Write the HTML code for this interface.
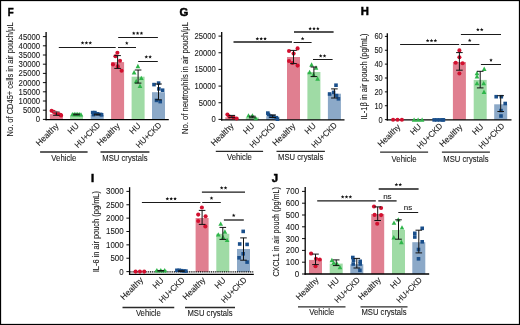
<!DOCTYPE html>
<html><head><meta charset="utf-8"><style>
html,body{margin:0;padding:0;background:#fff;}
svg{display:block;will-change:transform;}
text{font-family:"Liberation Sans", sans-serif;fill:#1a1a1a;stroke:#1a1a1a;stroke-width:0.1px;}
</style></head><body>
<svg width="520" height="325" viewBox="0 0 520 325">
<rect x="0" y="0" width="520" height="325" fill="#fff"/>
<text x="7.8" y="15.7" font-size="11.3" font-weight="bold" style="stroke-width:0.5px;fill:#000;stroke:#000" textLength="5.9" lengthAdjust="spacingAndGlyphs">F</text>
<text transform="translate(12.6,136.4) rotate(-90)" font-size="8.6" fill="#222" textLength="114" lengthAdjust="spacingAndGlyphs">No. of CD45+ cells in air pouch/μL</text>
<line x1="42.90" y1="119.4" x2="46.1" y2="119.4" stroke="#111" stroke-width="1"/>
<text x="40.10" y="122.35" font-size="8.7" text-anchor="end" textLength="4.30" lengthAdjust="spacingAndGlyphs">0</text>
<line x1="42.90" y1="110.2" x2="46.1" y2="110.2" stroke="#111" stroke-width="1"/>
<text x="40.10" y="113.15" font-size="8.7" text-anchor="end" textLength="17.20" lengthAdjust="spacingAndGlyphs">5000</text>
<line x1="42.90" y1="101.0" x2="46.1" y2="101.0" stroke="#111" stroke-width="1"/>
<text x="40.10" y="103.95" font-size="8.7" text-anchor="end" textLength="21.50" lengthAdjust="spacingAndGlyphs">10000</text>
<line x1="42.90" y1="91.8" x2="46.1" y2="91.8" stroke="#111" stroke-width="1"/>
<text x="40.10" y="94.75" font-size="8.7" text-anchor="end" textLength="21.50" lengthAdjust="spacingAndGlyphs">15000</text>
<line x1="42.90" y1="82.6" x2="46.1" y2="82.6" stroke="#111" stroke-width="1"/>
<text x="40.10" y="85.55" font-size="8.7" text-anchor="end" textLength="21.50" lengthAdjust="spacingAndGlyphs">20000</text>
<line x1="42.90" y1="73.4" x2="46.1" y2="73.4" stroke="#111" stroke-width="1"/>
<text x="40.10" y="76.35" font-size="8.7" text-anchor="end" textLength="21.50" lengthAdjust="spacingAndGlyphs">25000</text>
<line x1="42.90" y1="64.2" x2="46.1" y2="64.2" stroke="#111" stroke-width="1"/>
<text x="40.10" y="67.15" font-size="8.7" text-anchor="end" textLength="21.50" lengthAdjust="spacingAndGlyphs">30000</text>
<line x1="42.90" y1="55.0" x2="46.1" y2="55.0" stroke="#111" stroke-width="1"/>
<text x="40.10" y="57.95" font-size="8.7" text-anchor="end" textLength="21.50" lengthAdjust="spacingAndGlyphs">35000</text>
<line x1="42.90" y1="45.8" x2="46.1" y2="45.8" stroke="#111" stroke-width="1"/>
<text x="40.10" y="48.75" font-size="8.7" text-anchor="end" textLength="21.50" lengthAdjust="spacingAndGlyphs">40000</text>
<line x1="42.90" y1="36.6" x2="46.1" y2="36.6" stroke="#111" stroke-width="1"/>
<text x="40.10" y="39.55" font-size="8.7" text-anchor="end" textLength="21.50" lengthAdjust="spacingAndGlyphs">45000</text>
<rect x="49.90" y="114.1" width="13" height="5.50" fill="#E07F90"/>
<rect x="70.00" y="116.0" width="13" height="3.60" fill="#9FDBA5"/>
<rect x="90.70" y="115.0" width="13" height="4.60" fill="#8CA9C8"/>
<rect x="111.10" y="62.1" width="13" height="57.50" fill="#E07F90"/>
<rect x="131.60" y="76.7" width="13" height="42.90" fill="#9FDBA5"/>
<rect x="152.00" y="92.2" width="13" height="27.40" fill="#8CA9C8"/>
<line x1="46.1" y1="32.0" x2="46.1" y2="120.25" stroke="#000" stroke-width="1.3"/>
<line x1="45.45" y1="119.6" x2="168.8" y2="119.6" stroke="#000" stroke-width="1.35"/>
<circle cx="51.6" cy="110.8" r="2.05" fill="#D2102F"/>
<circle cx="53.8" cy="111.9" r="2.05" fill="#D2102F"/>
<circle cx="56.0" cy="112.9" r="2.05" fill="#D2102F"/>
<circle cx="58.2" cy="113.8" r="2.05" fill="#D2102F"/>
<circle cx="60.4" cy="114.7" r="2.05" fill="#D2102F"/>
<circle cx="61.1" cy="115.4" r="2.05" fill="#D2102F"/>
<line x1="56.4" y1="111.8" x2="56.4" y2="115.3" stroke="#111" stroke-width="1"/>
<line x1="53.1" y1="111.8" x2="59.699999999999996" y2="111.8" stroke="#777" stroke-width="1"/>
<line x1="53.1" y1="115.3" x2="59.699999999999996" y2="115.3" stroke="#111" stroke-width="1"/>
<polygon points="72.4,111.96 74.75,116.36 70.05,116.36" fill="#2EB54A"/>
<polygon points="74.2,111.86 76.55,116.26 71.85,116.26" fill="#2EB54A"/>
<polygon points="76.0,111.76 78.35,116.16 73.65,116.16" fill="#2EB54A"/>
<polygon points="77.8,111.76 80.15,116.16 75.45,116.16" fill="#2EB54A"/>
<polygon points="79.6,111.96 81.95,116.36 77.25,116.36" fill="#2EB54A"/>
<polygon points="81.0,112.16 83.35,116.56 78.65,116.56" fill="#2EB54A"/>
<line x1="76.5" y1="114.1" x2="76.5" y2="114.9" stroke="#111" stroke-width="1"/>
<line x1="73.2" y1="114.1" x2="79.8" y2="114.1" stroke="#111" stroke-width="1"/>
<line x1="73.2" y1="114.9" x2="79.8" y2="114.9" stroke="#111" stroke-width="1"/>
<rect x="90.90" y="110.80" width="3.6" height="3.6" fill="#1A4F8B"/>
<rect x="93.10" y="110.80" width="3.6" height="3.6" fill="#1A4F8B"/>
<rect x="91.70" y="112.80" width="3.6" height="3.6" fill="#1A4F8B"/>
<rect x="95.80" y="112.00" width="3.6" height="3.6" fill="#1A4F8B"/>
<rect x="98.80" y="112.60" width="3.6" height="3.6" fill="#1A4F8B"/>
<rect x="99.80" y="113.00" width="3.6" height="3.6" fill="#1A4F8B"/>
<line x1="97.2" y1="114.1" x2="97.2" y2="114.9" stroke="#111" stroke-width="1"/>
<line x1="93.9" y1="114.1" x2="100.5" y2="114.1" stroke="#111" stroke-width="1"/>
<line x1="93.9" y1="114.9" x2="100.5" y2="114.9" stroke="#111" stroke-width="1"/>
<circle cx="117.4" cy="52.8" r="2.05" fill="#D2102F"/>
<circle cx="115.4" cy="56.2" r="2.05" fill="#D2102F"/>
<circle cx="120" cy="60.8" r="2.05" fill="#D2102F"/>
<circle cx="113" cy="64.4" r="2.05" fill="#D2102F"/>
<circle cx="117.8" cy="66.4" r="2.05" fill="#D2102F"/>
<circle cx="121.6" cy="70.8" r="2.05" fill="#D2102F"/>
<line x1="117.6" y1="55.6" x2="117.6" y2="68.4" stroke="#111" stroke-width="1"/>
<line x1="114.3" y1="55.6" x2="120.89999999999999" y2="55.6" stroke="#111" stroke-width="1"/>
<line x1="114.3" y1="68.4" x2="120.89999999999999" y2="68.4" stroke="#111" stroke-width="1"/>
<polygon points="137.9,63.86 140.25,68.26 135.55,68.26" fill="#2EB54A"/>
<polygon points="134.1,70.06 136.45,74.46 131.75,74.46" fill="#2EB54A"/>
<polygon points="141.3,75.66 143.65,80.06 138.95,80.06" fill="#2EB54A"/>
<polygon points="136.2,78.76 138.55,83.16 133.85,83.16" fill="#2EB54A"/>
<polygon points="140,83.56 142.35,87.96 137.65,87.96" fill="#2EB54A"/>
<line x1="138.1" y1="70.0" x2="138.1" y2="83.1" stroke="#111" stroke-width="1"/>
<line x1="134.79999999999998" y1="70.0" x2="141.4" y2="70.0" stroke="#111" stroke-width="1"/>
<line x1="134.79999999999998" y1="83.1" x2="141.4" y2="83.1" stroke="#111" stroke-width="1"/>
<rect x="152.20" y="82.80" width="3.6" height="3.6" fill="#1A4F8B"/>
<rect x="156.80" y="81.30" width="3.6" height="3.6" fill="#1A4F8B"/>
<rect x="157.10" y="87.10" width="3.6" height="3.6" fill="#1A4F8B"/>
<rect x="160.80" y="88.40" width="3.6" height="3.6" fill="#1A4F8B"/>
<rect x="154.70" y="98.60" width="3.6" height="3.6" fill="#1A4F8B"/>
<rect x="158.40" y="99.80" width="3.6" height="3.6" fill="#1A4F8B"/>
<line x1="158.5" y1="84.0" x2="158.5" y2="99.8" stroke="#111" stroke-width="1"/>
<line x1="155.2" y1="84.0" x2="161.8" y2="84.0" stroke="#111" stroke-width="1"/>
<line x1="155.2" y1="99.8" x2="161.8" y2="99.8" stroke="#111" stroke-width="1"/>
<line x1="58.8" y1="47.5" x2="115.7" y2="47.5" stroke="#1a1a1a" stroke-width="1"/>
<polygon points="82.55,41.00 83.05,42.21 84.36,42.31 83.36,43.16 83.67,44.44 82.55,43.75 81.43,44.44 81.74,43.16 80.74,42.31 82.05,42.21" fill="#111"/>
<polygon points="86.40,41.00 86.90,42.21 88.21,42.31 87.21,43.16 87.52,44.44 86.40,43.75 85.28,44.44 85.59,43.16 84.59,42.31 85.90,42.21" fill="#111"/>
<polygon points="90.25,41.00 90.75,42.21 92.06,42.31 91.06,43.16 91.37,44.44 90.25,43.75 89.13,44.44 89.44,43.16 88.44,42.31 89.75,42.21" fill="#111"/>
<line x1="118" y1="47.5" x2="136" y2="47.5" stroke="#1a1a1a" stroke-width="1"/>
<polygon points="126.80,41.20 127.30,42.41 128.61,42.51 127.61,43.36 127.92,44.64 126.80,43.95 125.68,44.64 125.99,43.36 124.99,42.51 126.30,42.41" fill="#111"/>
<line x1="118.2" y1="37.5" x2="157.9" y2="37.5" stroke="#1a1a1a" stroke-width="1"/>
<polygon points="133.75,31.40 134.25,32.61 135.56,32.71 134.56,33.56 134.87,34.84 133.75,34.15 132.63,34.84 132.94,33.56 131.94,32.71 133.25,32.61" fill="#111"/>
<polygon points="137.60,31.40 138.10,32.61 139.41,32.71 138.41,33.56 138.72,34.84 137.60,34.15 136.48,34.84 136.79,33.56 135.79,32.71 137.10,32.61" fill="#111"/>
<polygon points="141.45,31.40 141.95,32.61 143.26,32.71 142.26,33.56 142.57,34.84 141.45,34.15 140.33,34.84 140.64,33.56 139.64,32.71 140.95,32.61" fill="#111"/>
<line x1="138.2" y1="61.5" x2="157.8" y2="61.5" stroke="#1a1a1a" stroke-width="1"/>
<polygon points="146.27,55.10 146.77,56.31 148.08,56.41 147.08,57.26 147.39,58.54 146.27,57.85 145.16,58.54 145.47,57.26 144.47,56.41 145.78,56.31" fill="#111"/>
<polygon points="150.12,55.10 150.62,56.31 151.93,56.41 150.93,57.26 151.24,58.54 150.12,57.85 149.01,58.54 149.32,57.26 148.32,56.41 149.63,56.31" fill="#111"/>
<text transform="translate(59.15,126.55) rotate(-45)" font-size="8.4" text-anchor="end" textLength="28.3" lengthAdjust="spacingAndGlyphs">Healthy</text>
<text transform="translate(79.53,126.27) rotate(-45)" font-size="8.4" text-anchor="end" textLength="11.9" lengthAdjust="spacingAndGlyphs">HU</text>
<text transform="translate(100.80,125.70) rotate(-45)" font-size="8.4" text-anchor="end" textLength="32.4" lengthAdjust="spacingAndGlyphs">HU+CKD</text>
<text transform="translate(120.35,126.55) rotate(-45)" font-size="8.4" text-anchor="end" textLength="28.3" lengthAdjust="spacingAndGlyphs">Healthy</text>
<text transform="translate(141.13,126.27) rotate(-45)" font-size="8.4" text-anchor="end" textLength="11.9" lengthAdjust="spacingAndGlyphs">HU</text>
<text transform="translate(162.10,125.70) rotate(-45)" font-size="8.4" text-anchor="end" textLength="32.4" lengthAdjust="spacingAndGlyphs">HU+CKD</text>
<line x1="40.1" y1="152.0" x2="87.6" y2="152.0" stroke="#2a2a2a" stroke-width="1.3"/>
<text x="63.85" y="161.40" font-size="8.8" text-anchor="middle" textLength="25.0" lengthAdjust="spacingAndGlyphs">Vehicle</text>
<line x1="100.5" y1="152.0" x2="149.4" y2="152.0" stroke="#2a2a2a" stroke-width="1.3"/>
<text x="124.95" y="161.40" font-size="8.8" text-anchor="middle" textLength="45.2" lengthAdjust="spacingAndGlyphs">MSU crystals</text>
<text x="179.6" y="15.7" font-size="11.3" font-weight="bold" style="stroke-width:0.5px;fill:#000;stroke:#000">G</text>
<text transform="translate(187.6,134.0) rotate(-90)" font-size="8.8" fill="#222" textLength="112" lengthAdjust="spacingAndGlyphs">No. of neutrophils in air pouch/μL</text>
<line x1="218.50" y1="119.4" x2="221.7" y2="119.4" stroke="#111" stroke-width="1"/>
<text x="215.70" y="122.35" font-size="8.7" text-anchor="end" textLength="4.24" lengthAdjust="spacingAndGlyphs">0</text>
<line x1="218.50" y1="102.74" x2="221.7" y2="102.74" stroke="#111" stroke-width="1"/>
<text x="215.70" y="105.69" font-size="8.7" text-anchor="end" textLength="16.96" lengthAdjust="spacingAndGlyphs">5000</text>
<line x1="218.50" y1="86.08" x2="221.7" y2="86.08" stroke="#111" stroke-width="1"/>
<text x="215.70" y="89.03" font-size="8.7" text-anchor="end" textLength="21.20" lengthAdjust="spacingAndGlyphs">10000</text>
<line x1="218.50" y1="69.42" x2="221.7" y2="69.42" stroke="#111" stroke-width="1"/>
<text x="215.70" y="72.37" font-size="8.7" text-anchor="end" textLength="21.20" lengthAdjust="spacingAndGlyphs">15000</text>
<line x1="218.50" y1="52.76" x2="221.7" y2="52.76" stroke="#111" stroke-width="1"/>
<text x="215.70" y="55.71" font-size="8.7" text-anchor="end" textLength="21.20" lengthAdjust="spacingAndGlyphs">20000</text>
<line x1="218.50" y1="36.1" x2="221.7" y2="36.1" stroke="#111" stroke-width="1"/>
<text x="215.70" y="39.05" font-size="8.7" text-anchor="end" textLength="21.20" lengthAdjust="spacingAndGlyphs">25000</text>
<rect x="225.30" y="117.3" width="13" height="2.50" fill="#E07F90"/>
<rect x="245.80" y="117.5" width="13" height="2.30" fill="#9FDBA5"/>
<rect x="266.20" y="116.5" width="13" height="3.30" fill="#8CA9C8"/>
<rect x="287.00" y="57.0" width="13" height="62.80" fill="#E07F90"/>
<rect x="307.40" y="72.0" width="13" height="47.80" fill="#9FDBA5"/>
<rect x="327.90" y="93.7" width="13" height="26.10" fill="#8CA9C8"/>
<line x1="221.7" y1="32.1" x2="221.7" y2="120.45" stroke="#000" stroke-width="1.3"/>
<line x1="221.04999999999998" y1="119.8" x2="344.5" y2="119.8" stroke="#000" stroke-width="1.35"/>
<circle cx="227.4" cy="114.6" r="2.05" fill="#D2102F"/>
<circle cx="229.3" cy="116.5" r="2.05" fill="#D2102F"/>
<circle cx="233.5" cy="117.3" r="2.05" fill="#D2102F"/>
<circle cx="236.6" cy="118.5" r="2.05" fill="#D2102F"/>
<line x1="231.8" y1="115.4" x2="231.8" y2="117.7" stroke="#111" stroke-width="1"/>
<line x1="228.5" y1="115.4" x2="235.10000000000002" y2="115.4" stroke="#111" stroke-width="1"/>
<line x1="228.5" y1="117.7" x2="235.10000000000002" y2="117.7" stroke="#111" stroke-width="1"/>
<polygon points="248.5,113.16 250.85,117.56 246.15,117.56" fill="#2EB54A"/>
<polygon points="252.4,113.16 254.75,117.56 250.05,117.56" fill="#2EB54A"/>
<polygon points="255.8,115.96 258.15,120.36 253.45,120.36" fill="#2EB54A"/>
<line x1="252.3" y1="116.2" x2="252.3" y2="117.8" stroke="#111" stroke-width="1"/>
<line x1="249.0" y1="116.2" x2="255.60000000000002" y2="116.2" stroke="#111" stroke-width="1"/>
<line x1="249.0" y1="117.8" x2="255.60000000000002" y2="117.8" stroke="#111" stroke-width="1"/>
<rect x="266.00" y="111.30" width="3.6" height="3.6" fill="#1A4F8B"/>
<rect x="266.70" y="112.80" width="3.6" height="3.6" fill="#1A4F8B"/>
<rect x="268.70" y="114.40" width="3.6" height="3.6" fill="#1A4F8B"/>
<rect x="271.70" y="114.70" width="3.6" height="3.6" fill="#1A4F8B"/>
<rect x="274.40" y="115.90" width="3.6" height="3.6" fill="#1A4F8B"/>
<rect x="275.60" y="117.40" width="3.6" height="3.6" fill="#1A4F8B"/>
<line x1="272.7" y1="115.0" x2="272.7" y2="117.5" stroke="#111" stroke-width="1"/>
<line x1="269.4" y1="115.0" x2="276.0" y2="115.0" stroke="#111" stroke-width="1"/>
<line x1="269.4" y1="117.5" x2="276.0" y2="117.5" stroke="#111" stroke-width="1"/>
<circle cx="289" cy="51" r="2.05" fill="#D2102F"/>
<circle cx="297.6" cy="48.4" r="2.05" fill="#D2102F"/>
<circle cx="293.6" cy="53.6" r="2.05" fill="#D2102F"/>
<circle cx="289" cy="61" r="2.05" fill="#D2102F"/>
<circle cx="297.6" cy="65.6" r="2.05" fill="#D2102F"/>
<circle cx="292.4" cy="63" r="2.05" fill="#D2102F"/>
<line x1="293.5" y1="50.4" x2="293.5" y2="63.6" stroke="#111" stroke-width="1"/>
<line x1="290.2" y1="50.4" x2="296.8" y2="50.4" stroke="#111" stroke-width="1"/>
<line x1="290.2" y1="63.6" x2="296.8" y2="63.6" stroke="#111" stroke-width="1"/>
<polygon points="311.6,62.36 313.95,66.76 309.25,66.76" fill="#2EB54A"/>
<polygon points="309.6,69.76 311.95,74.16 307.25,74.16" fill="#2EB54A"/>
<polygon points="316,65.36 318.35,69.76 313.65,69.76" fill="#2EB54A"/>
<polygon points="317.6,76.36 319.95,80.76 315.25,80.76" fill="#2EB54A"/>
<polygon points="313.5,72.36 315.85,76.76 311.15,76.76" fill="#2EB54A"/>
<line x1="313.9" y1="67.0" x2="313.9" y2="76.6" stroke="#111" stroke-width="1"/>
<line x1="310.59999999999997" y1="67.0" x2="317.2" y2="67.0" stroke="#111" stroke-width="1"/>
<line x1="310.59999999999997" y1="76.6" x2="317.2" y2="76.6" stroke="#111" stroke-width="1"/>
<rect x="334.20" y="83.40" width="3.6" height="3.6" fill="#1A4F8B"/>
<rect x="327.80" y="92.20" width="3.6" height="3.6" fill="#1A4F8B"/>
<rect x="331.80" y="90.60" width="3.6" height="3.6" fill="#1A4F8B"/>
<rect x="336.60" y="97.00" width="3.6" height="3.6" fill="#1A4F8B"/>
<rect x="334.70" y="93.80" width="3.6" height="3.6" fill="#1A4F8B"/>
<line x1="334.4" y1="88.9" x2="334.4" y2="98.0" stroke="#111" stroke-width="1"/>
<line x1="331.09999999999997" y1="88.9" x2="337.7" y2="88.9" stroke="#111" stroke-width="1"/>
<line x1="331.09999999999997" y1="98.0" x2="337.7" y2="98.0" stroke="#111" stroke-width="1"/>
<line x1="233.5" y1="42.0" x2="292" y2="42.0" stroke="#1a1a1a" stroke-width="1.3"/>
<polygon points="257.35,36.90 257.85,38.11 259.16,38.21 258.16,39.06 258.47,40.34 257.35,39.65 256.23,40.34 256.54,39.06 255.54,38.21 256.85,38.11" fill="#111"/>
<polygon points="261.20,36.90 261.70,38.11 263.01,38.21 262.01,39.06 262.32,40.34 261.20,39.65 260.08,40.34 260.39,39.06 259.39,38.21 260.70,38.11" fill="#111"/>
<polygon points="265.05,36.90 265.55,38.11 266.86,38.21 265.86,39.06 266.17,40.34 265.05,39.65 263.93,40.34 264.24,39.06 263.24,38.21 264.55,38.11" fill="#111"/>
<line x1="293.6" y1="42.5" x2="311.6" y2="42.5" stroke="#1a1a1a" stroke-width="1"/>
<polygon points="302.60,36.70 303.10,37.91 304.41,38.01 303.41,38.86 303.72,40.14 302.60,39.45 301.48,40.14 301.79,38.86 300.79,38.01 302.10,37.91" fill="#111"/>
<line x1="294" y1="32.0" x2="333.6" y2="32.0" stroke="#1a1a1a" stroke-width="1.3"/>
<polygon points="310.15,26.70 310.65,27.91 311.96,28.01 310.96,28.86 311.27,30.14 310.15,29.45 309.03,30.14 309.34,28.86 308.34,28.01 309.65,27.91" fill="#111"/>
<polygon points="314.00,26.70 314.50,27.91 315.81,28.01 314.81,28.86 315.12,30.14 314.00,29.45 312.88,30.14 313.19,28.86 312.19,28.01 313.50,27.91" fill="#111"/>
<polygon points="317.85,26.70 318.35,27.91 319.66,28.01 318.66,28.86 318.97,30.14 317.85,29.45 316.73,30.14 317.04,28.86 316.04,28.01 317.35,27.91" fill="#111"/>
<line x1="313" y1="59.5" x2="332.6" y2="59.5" stroke="#1a1a1a" stroke-width="1"/>
<polygon points="320.68,54.10 321.17,55.31 322.48,55.41 321.48,56.26 321.79,57.54 320.68,56.85 319.56,57.54 319.87,56.26 318.87,55.41 320.18,55.31" fill="#111"/>
<polygon points="324.53,54.10 325.02,55.31 326.33,55.41 325.33,56.26 325.64,57.54 324.53,56.85 323.41,57.54 323.72,56.26 322.72,55.41 324.03,55.31" fill="#111"/>
<text transform="translate(234.15,126.55) rotate(-45)" font-size="8.4" text-anchor="end" textLength="28.3" lengthAdjust="spacingAndGlyphs">Healthy</text>
<text transform="translate(254.93,126.27) rotate(-45)" font-size="8.4" text-anchor="end" textLength="11.9" lengthAdjust="spacingAndGlyphs">HU</text>
<text transform="translate(275.90,125.70) rotate(-45)" font-size="8.4" text-anchor="end" textLength="32.4" lengthAdjust="spacingAndGlyphs">HU+CKD</text>
<text transform="translate(295.85,126.55) rotate(-45)" font-size="8.4" text-anchor="end" textLength="28.3" lengthAdjust="spacingAndGlyphs">Healthy</text>
<text transform="translate(316.53,126.27) rotate(-45)" font-size="8.4" text-anchor="end" textLength="11.9" lengthAdjust="spacingAndGlyphs">HU</text>
<text transform="translate(337.60,125.70) rotate(-45)" font-size="8.4" text-anchor="end" textLength="32.4" lengthAdjust="spacingAndGlyphs">HU+CKD</text>
<line x1="215.8" y1="151.4" x2="263.1" y2="151.4" stroke="#2a2a2a" stroke-width="1.3"/>
<text x="239.45" y="160.05" font-size="8.8" text-anchor="middle" textLength="25.0" lengthAdjust="spacingAndGlyphs">Vehicle</text>
<line x1="276.5" y1="151.4" x2="324.9" y2="151.4" stroke="#2a2a2a" stroke-width="1.3"/>
<text x="300.70" y="160.05" font-size="8.8" text-anchor="middle" textLength="45.2" lengthAdjust="spacingAndGlyphs">MSU crystals</text>
<text x="360.8" y="15.4" font-size="11.3" font-weight="bold" style="stroke-width:0.5px;fill:#000;stroke:#000">H</text>
<text transform="translate(366.6,119.4) rotate(-90)" font-size="8.6" fill="#222" textLength="86" lengthAdjust="spacingAndGlyphs">IL-1β in air pouch (pg/mL)</text>
<line x1="384.90" y1="119.6" x2="387.3" y2="119.6" stroke="#111" stroke-width="1"/>
<text x="382.70" y="122.55" font-size="8.7" text-anchor="end" textLength="4.15" lengthAdjust="spacingAndGlyphs">0</text>
<line x1="384.90" y1="105.73" x2="387.3" y2="105.73" stroke="#111" stroke-width="1"/>
<text x="382.70" y="108.68" font-size="8.7" text-anchor="end" textLength="8.30" lengthAdjust="spacingAndGlyphs">10</text>
<line x1="384.90" y1="91.87" x2="387.3" y2="91.87" stroke="#111" stroke-width="1"/>
<text x="382.70" y="94.82" font-size="8.7" text-anchor="end" textLength="8.30" lengthAdjust="spacingAndGlyphs">20</text>
<line x1="384.90" y1="78.0" x2="387.3" y2="78.0" stroke="#111" stroke-width="1"/>
<text x="382.70" y="80.95" font-size="8.7" text-anchor="end" textLength="8.30" lengthAdjust="spacingAndGlyphs">30</text>
<line x1="384.90" y1="64.13" x2="387.3" y2="64.13" stroke="#111" stroke-width="1"/>
<text x="382.70" y="67.08" font-size="8.7" text-anchor="end" textLength="8.30" lengthAdjust="spacingAndGlyphs">40</text>
<line x1="384.90" y1="50.27" x2="387.3" y2="50.27" stroke="#111" stroke-width="1"/>
<text x="382.70" y="53.22" font-size="8.7" text-anchor="end" textLength="8.30" lengthAdjust="spacingAndGlyphs">50</text>
<line x1="384.90" y1="36.4" x2="387.3" y2="36.4" stroke="#111" stroke-width="1"/>
<text x="382.70" y="39.35" font-size="8.7" text-anchor="end" textLength="8.30" lengthAdjust="spacingAndGlyphs">60</text>
<rect x="391.00" y="119.6" width="13" height="0.20" fill="#E07F90"/>
<rect x="411.60" y="119.6" width="13" height="0.20" fill="#9FDBA5"/>
<rect x="432.30" y="119.6" width="13" height="0.20" fill="#8CA9C8"/>
<rect x="452.90" y="62.0" width="13" height="57.80" fill="#E07F90"/>
<rect x="473.70" y="79.9" width="13" height="39.90" fill="#9FDBA5"/>
<rect x="494.20" y="104.3" width="13" height="15.50" fill="#8CA9C8"/>
<line x1="387.3" y1="33.3" x2="387.3" y2="120.45" stroke="#000" stroke-width="1.3"/>
<line x1="386.65000000000003" y1="119.8" x2="511.5" y2="119.8" stroke="#000" stroke-width="1.35"/>
<circle cx="393.1" cy="119.7" r="2.05" fill="#D2102F"/>
<circle cx="397.5" cy="119.7" r="2.05" fill="#D2102F"/>
<circle cx="401.9" cy="119.7" r="2.05" fill="#D2102F"/>
<polygon points="414.1,117.46 416.45,121.86 411.75,121.86" fill="#2EB54A"/>
<polygon points="418.1,117.46 420.45,121.86 415.75,121.86" fill="#2EB54A"/>
<polygon points="422.1,117.46 424.45,121.86 419.75,121.86" fill="#2EB54A"/>
<rect x="432.40" y="118.10" width="3.6" height="3.6" fill="#1A4F8B"/>
<rect x="435.20" y="118.10" width="3.6" height="3.6" fill="#1A4F8B"/>
<rect x="438.00" y="118.10" width="3.6" height="3.6" fill="#1A4F8B"/>
<rect x="440.80" y="118.10" width="3.6" height="3.6" fill="#1A4F8B"/>
<rect x="441.60" y="118.10" width="3.6" height="3.6" fill="#1A4F8B"/>
<circle cx="459.4" cy="50.4" r="2.05" fill="#D2102F"/>
<circle cx="459.4" cy="57.3" r="2.05" fill="#D2102F"/>
<circle cx="455.7" cy="62.7" r="2.05" fill="#D2102F"/>
<circle cx="462.6" cy="63.3" r="2.05" fill="#D2102F"/>
<circle cx="459.4" cy="73.5" r="2.05" fill="#D2102F"/>
<line x1="459.4" y1="52.6" x2="459.4" y2="70.2" stroke="#111" stroke-width="1"/>
<line x1="456.09999999999997" y1="52.6" x2="462.7" y2="52.6" stroke="#111" stroke-width="1"/>
<line x1="456.09999999999997" y1="70.2" x2="462.7" y2="70.2" stroke="#111" stroke-width="1"/>
<polygon points="484.2,66.56 486.55,70.96 481.85,70.96" fill="#2EB54A"/>
<polygon points="477,70.86 479.35,75.26 474.65,75.26" fill="#2EB54A"/>
<polygon points="477,74.06 479.35,78.46 474.65,78.46" fill="#2EB54A"/>
<polygon points="477,80.96 479.35,85.36 474.65,85.36" fill="#2EB54A"/>
<polygon points="483.7,80.96 486.05,85.36 481.35,85.36" fill="#2EB54A"/>
<polygon points="484,89.56 486.35,93.96 481.65,93.96" fill="#2EB54A"/>
<line x1="480.2" y1="71.3" x2="480.2" y2="87.9" stroke="#111" stroke-width="1"/>
<line x1="476.9" y1="71.3" x2="483.5" y2="71.3" stroke="#111" stroke-width="1"/>
<line x1="476.9" y1="87.9" x2="483.5" y2="87.9" stroke="#111" stroke-width="1"/>
<rect x="494.40" y="94.90" width="3.6" height="3.6" fill="#1A4F8B"/>
<rect x="499.50" y="94.90" width="3.6" height="3.6" fill="#1A4F8B"/>
<rect x="503.40" y="101.70" width="3.6" height="3.6" fill="#1A4F8B"/>
<rect x="499.20" y="108.80" width="3.6" height="3.6" fill="#1A4F8B"/>
<rect x="499.20" y="114.20" width="3.6" height="3.6" fill="#1A4F8B"/>
<line x1="500.7" y1="95.7" x2="500.7" y2="111.5" stroke="#111" stroke-width="1"/>
<line x1="497.4" y1="95.7" x2="504.0" y2="95.7" stroke="#111" stroke-width="1"/>
<line x1="497.4" y1="111.5" x2="504.0" y2="111.5" stroke="#111" stroke-width="1"/>
<line x1="400.1" y1="44.5" x2="459.2" y2="44.5" stroke="#1a1a1a" stroke-width="1"/>
<polygon points="427.65,38.80 428.15,40.01 429.46,40.11 428.46,40.96 428.77,42.24 427.65,41.55 426.53,42.24 426.84,40.96 425.84,40.11 427.15,40.01" fill="#111"/>
<polygon points="431.50,38.80 432.00,40.01 433.31,40.11 432.31,40.96 432.62,42.24 431.50,41.55 430.38,42.24 430.69,40.96 429.69,40.11 431.00,40.01" fill="#111"/>
<polygon points="435.35,38.80 435.85,40.01 437.16,40.11 436.16,40.96 436.47,42.24 435.35,41.55 434.23,42.24 434.54,40.96 433.54,40.11 434.85,40.01" fill="#111"/>
<line x1="460.9" y1="44.5" x2="479.4" y2="44.5" stroke="#1a1a1a" stroke-width="1"/>
<polygon points="469.70,38.60 470.20,39.81 471.51,39.91 470.51,40.76 470.82,42.04 469.70,41.35 468.58,42.04 468.89,40.76 467.89,39.91 469.20,39.81" fill="#111"/>
<line x1="460.9" y1="34.5" x2="501" y2="34.5" stroke="#1a1a1a" stroke-width="1"/>
<polygon points="477.88,27.80 478.37,29.01 479.68,29.11 478.68,29.96 478.99,31.24 477.88,30.55 476.76,31.24 477.07,29.96 476.07,29.11 477.38,29.01" fill="#111"/>
<polygon points="481.73,27.80 482.22,29.01 483.53,29.11 482.53,29.96 482.84,31.24 481.73,30.55 480.61,31.24 480.92,29.96 479.92,29.11 481.23,29.01" fill="#111"/>
<line x1="480.9" y1="64.5" x2="501" y2="64.5" stroke="#1a1a1a" stroke-width="1"/>
<polygon points="491.00,58.20 491.50,59.41 492.81,59.51 491.81,60.36 492.12,61.64 491.00,60.95 489.88,61.64 490.19,60.36 489.19,59.51 490.50,59.41" fill="#111"/>
<text transform="translate(400.95,127.45) rotate(-45)" font-size="8.4" text-anchor="end" textLength="28.3" lengthAdjust="spacingAndGlyphs">Healthy</text>
<text transform="translate(421.83,127.17) rotate(-45)" font-size="8.4" text-anchor="end" textLength="11.9" lengthAdjust="spacingAndGlyphs">HU</text>
<text transform="translate(443.10,126.60) rotate(-45)" font-size="8.4" text-anchor="end" textLength="32.4" lengthAdjust="spacingAndGlyphs">HU+CKD</text>
<text transform="translate(462.85,127.45) rotate(-45)" font-size="8.4" text-anchor="end" textLength="28.3" lengthAdjust="spacingAndGlyphs">Healthy</text>
<text transform="translate(483.93,127.17) rotate(-45)" font-size="8.4" text-anchor="end" textLength="11.9" lengthAdjust="spacingAndGlyphs">HU</text>
<text transform="translate(505.00,126.60) rotate(-45)" font-size="8.4" text-anchor="end" textLength="32.4" lengthAdjust="spacingAndGlyphs">HU+CKD</text>
<line x1="380.1" y1="152.1" x2="428.1" y2="152.1" stroke="#2a2a2a" stroke-width="1.3"/>
<text x="404.10" y="161.90" font-size="8.8" text-anchor="middle" textLength="25.0" lengthAdjust="spacingAndGlyphs">Vehicle</text>
<line x1="441.9" y1="152.1" x2="489.9" y2="152.1" stroke="#2a2a2a" stroke-width="1.3"/>
<text x="465.90" y="161.90" font-size="8.8" text-anchor="middle" textLength="45.2" lengthAdjust="spacingAndGlyphs">MSU crystals</text>
<text x="90.9" y="181.6" font-size="11.3" font-weight="bold" style="stroke-width:0.5px;fill:#000;stroke:#000">I</text>
<text transform="translate(99.4,272.2) rotate(-90)" font-size="8.6" fill="#222" textLength="81.2" lengthAdjust="spacingAndGlyphs">IL-6 in air pouch (pg/mL)</text>
<line x1="126.40" y1="271.6" x2="129.6" y2="271.6" stroke="#111" stroke-width="1"/>
<text x="123.60" y="274.55" font-size="8.7" text-anchor="end" textLength="4.40" lengthAdjust="spacingAndGlyphs">0</text>
<line x1="126.40" y1="258.23" x2="129.6" y2="258.23" stroke="#111" stroke-width="1"/>
<text x="123.60" y="261.18" font-size="8.7" text-anchor="end" textLength="13.20" lengthAdjust="spacingAndGlyphs">500</text>
<line x1="126.40" y1="244.87" x2="129.6" y2="244.87" stroke="#111" stroke-width="1"/>
<text x="123.60" y="247.82" font-size="8.7" text-anchor="end" textLength="17.60" lengthAdjust="spacingAndGlyphs">1000</text>
<line x1="126.40" y1="231.5" x2="129.6" y2="231.5" stroke="#111" stroke-width="1"/>
<text x="123.60" y="234.45" font-size="8.7" text-anchor="end" textLength="17.60" lengthAdjust="spacingAndGlyphs">1500</text>
<line x1="126.40" y1="218.13" x2="129.6" y2="218.13" stroke="#111" stroke-width="1"/>
<text x="123.60" y="221.08" font-size="8.7" text-anchor="end" textLength="17.60" lengthAdjust="spacingAndGlyphs">2000</text>
<line x1="126.40" y1="204.77" x2="129.6" y2="204.77" stroke="#111" stroke-width="1"/>
<text x="123.60" y="207.72" font-size="8.7" text-anchor="end" textLength="17.60" lengthAdjust="spacingAndGlyphs">2500</text>
<line x1="126.40" y1="191.4" x2="129.6" y2="191.4" stroke="#111" stroke-width="1"/>
<text x="123.60" y="194.35" font-size="8.7" text-anchor="end" textLength="17.60" lengthAdjust="spacingAndGlyphs">3000</text>
<rect x="133.40" y="271.7" width="13" height="0.20" fill="#E07F90"/>
<rect x="154.30" y="271.7" width="13" height="0.20" fill="#9FDBA5"/>
<rect x="174.90" y="271.0" width="13" height="0.90" fill="#8CA9C8"/>
<rect x="195.60" y="218.0" width="13" height="53.90" fill="#E07F90"/>
<rect x="216.30" y="233.8" width="13" height="38.10" fill="#9FDBA5"/>
<rect x="237.00" y="249.0" width="13" height="22.90" fill="#8CA9C8"/>
<line x1="129.6" y1="187.2" x2="129.6" y2="274.95" stroke="#000" stroke-width="1.3"/>
<line x1="128.95" y1="274.3" x2="253.8" y2="274.3" stroke="#000" stroke-width="1.35"/>
<line x1="129.6" y1="271.9" x2="253.8" y2="271.9" stroke="#000" stroke-width="1.1" stroke-dasharray="1.1,0.75"/>
<rect x="155.4" y="269.9" width="11.0" height="2.5" fill="#2EB54A"/>
<circle cx="135.6" cy="271.6" r="2.05" fill="#D2102F"/>
<circle cx="139.9" cy="271.6" r="2.05" fill="#D2102F"/>
<circle cx="144.2" cy="271.6" r="2.05" fill="#D2102F"/>
<polygon points="156.9,267.96 159.25,272.36 154.55,272.36" fill="#2EB54A"/>
<polygon points="160.8,267.96 163.15,272.36 158.45,272.36" fill="#2EB54A"/>
<polygon points="164.7,267.96 167.05,272.36 162.35,272.36" fill="#2EB54A"/>
<line x1="160.8" y1="270.7" x2="160.8" y2="270.9" stroke="#111" stroke-width="1"/>
<line x1="157.5" y1="270.7" x2="164.10000000000002" y2="270.7" stroke="#111" stroke-width="1"/>
<line x1="157.5" y1="270.9" x2="164.10000000000002" y2="270.9" stroke="#111" stroke-width="1"/>
<rect x="175.10" y="268.50" width="3.6" height="3.6" fill="#1A4F8B"/>
<rect x="177.50" y="268.50" width="3.6" height="3.6" fill="#1A4F8B"/>
<rect x="179.80" y="268.90" width="3.6" height="3.6" fill="#1A4F8B"/>
<rect x="182.20" y="269.20" width="3.6" height="3.6" fill="#1A4F8B"/>
<rect x="184.10" y="269.30" width="3.6" height="3.6" fill="#1A4F8B"/>
<line x1="181.4" y1="270.9" x2="181.4" y2="271.3" stroke="#111" stroke-width="1"/>
<line x1="178.1" y1="270.9" x2="184.70000000000002" y2="270.9" stroke="#111" stroke-width="1"/>
<line x1="178.1" y1="271.3" x2="184.70000000000002" y2="271.3" stroke="#111" stroke-width="1"/>
<circle cx="201.9" cy="207.5" r="2.05" fill="#D2102F"/>
<circle cx="198.2" cy="214.6" r="2.05" fill="#D2102F"/>
<circle cx="205.6" cy="216.3" r="2.05" fill="#D2102F"/>
<circle cx="198.2" cy="221" r="2.05" fill="#D2102F"/>
<circle cx="205.3" cy="226.4" r="2.05" fill="#D2102F"/>
<line x1="202.1" y1="210.4" x2="202.1" y2="224.4" stroke="#111" stroke-width="1"/>
<line x1="198.79999999999998" y1="210.4" x2="205.4" y2="210.4" stroke="#111" stroke-width="1"/>
<line x1="198.79999999999998" y1="224.4" x2="205.4" y2="224.4" stroke="#111" stroke-width="1"/>
<polygon points="220.7,221.46 223.05,225.86 218.35,225.86" fill="#2EB54A"/>
<polygon points="218.3,232.16 220.65,236.56 215.95,236.56" fill="#2EB54A"/>
<polygon points="224.9,229.36 227.25,233.76 222.55,233.76" fill="#2EB54A"/>
<polygon points="227.1,237.66 229.45,242.06 224.75,242.06" fill="#2EB54A"/>
<polygon points="223.1,234.86 225.45,239.26 220.75,239.26" fill="#2EB54A"/>
<line x1="222.8" y1="227.4" x2="222.8" y2="239.4" stroke="#111" stroke-width="1"/>
<line x1="219.5" y1="227.4" x2="226.10000000000002" y2="227.4" stroke="#111" stroke-width="1"/>
<line x1="219.5" y1="239.4" x2="226.10000000000002" y2="239.4" stroke="#111" stroke-width="1"/>
<rect x="241.40" y="229.60" width="3.6" height="3.6" fill="#1A4F8B"/>
<rect x="237.90" y="242.20" width="3.6" height="3.6" fill="#1A4F8B"/>
<rect x="245.30" y="242.60" width="3.6" height="3.6" fill="#1A4F8B"/>
<rect x="241.40" y="252.00" width="3.6" height="3.6" fill="#1A4F8B"/>
<rect x="237.30" y="256.00" width="3.6" height="3.6" fill="#1A4F8B"/>
<rect x="245.30" y="260.30" width="3.6" height="3.6" fill="#1A4F8B"/>
<line x1="243.5" y1="237.9" x2="243.5" y2="260.2" stroke="#111" stroke-width="1"/>
<line x1="240.2" y1="237.9" x2="246.8" y2="237.9" stroke="#111" stroke-width="1"/>
<line x1="240.2" y1="260.2" x2="246.8" y2="260.2" stroke="#111" stroke-width="1"/>
<line x1="141.9" y1="202.5" x2="200.4" y2="202.5" stroke="#1a1a1a" stroke-width="1"/>
<polygon points="167.35,196.90 167.85,198.11 169.16,198.21 168.16,199.06 168.47,200.34 167.35,199.65 166.23,200.34 166.54,199.06 165.54,198.21 166.85,198.11" fill="#111"/>
<polygon points="171.20,196.90 171.70,198.11 173.01,198.21 172.01,199.06 172.32,200.34 171.20,199.65 170.08,200.34 170.39,199.06 169.39,198.21 170.70,198.11" fill="#111"/>
<polygon points="175.05,196.90 175.55,198.11 176.86,198.21 175.86,199.06 176.17,200.34 175.05,199.65 173.93,200.34 174.24,199.06 173.24,198.21 174.55,198.11" fill="#111"/>
<line x1="202.2" y1="202.5" x2="220.8" y2="202.5" stroke="#1a1a1a" stroke-width="1"/>
<polygon points="211.50,196.30 212.00,197.51 213.31,197.61 212.31,198.46 212.62,199.74 211.50,199.05 210.38,199.74 210.69,198.46 209.69,197.61 211.00,197.51" fill="#111"/>
<line x1="201.9" y1="192.1" x2="245" y2="192.1" stroke="#1a1a1a" stroke-width="1.3"/>
<polygon points="221.67,186.00 222.17,187.21 223.48,187.31 222.48,188.16 222.79,189.44 221.67,188.75 220.56,189.44 220.87,188.16 219.87,187.31 221.18,187.21" fill="#111"/>
<polygon points="225.53,186.00 226.02,187.21 227.33,187.31 226.33,188.16 226.64,189.44 225.53,188.75 224.41,189.44 224.72,188.16 223.72,187.31 225.03,187.21" fill="#111"/>
<line x1="223.9" y1="220.0" x2="243.8" y2="220.0" stroke="#1a1a1a" stroke-width="1.3"/>
<polygon points="233.70,213.50 234.20,214.71 235.51,214.81 234.51,215.66 234.82,216.94 233.70,216.25 232.58,216.94 232.89,215.66 231.89,214.81 233.20,214.71" fill="#111"/>
<text transform="translate(143.70,280.60) rotate(-45)" font-size="8.4" text-anchor="end" textLength="28.3" lengthAdjust="spacingAndGlyphs">Healthy</text>
<text transform="translate(164.32,280.88) rotate(-45)" font-size="8.4" text-anchor="end" textLength="11.9" lengthAdjust="spacingAndGlyphs">HU</text>
<text transform="translate(185.20,280.60) rotate(-45)" font-size="8.4" text-anchor="end" textLength="32.4" lengthAdjust="spacingAndGlyphs">HU+CKD</text>
<text transform="translate(205.90,280.60) rotate(-45)" font-size="8.4" text-anchor="end" textLength="28.3" lengthAdjust="spacingAndGlyphs">Healthy</text>
<text transform="translate(226.32,280.88) rotate(-45)" font-size="8.4" text-anchor="end" textLength="11.9" lengthAdjust="spacingAndGlyphs">HU</text>
<text transform="translate(247.30,280.60) rotate(-45)" font-size="8.4" text-anchor="end" textLength="32.4" lengthAdjust="spacingAndGlyphs">HU+CKD</text>
<line x1="122.5" y1="307.5" x2="174.25" y2="307.5" stroke="#2a2a2a" stroke-width="1.3"/>
<text x="148.38" y="316.00" font-size="8.8" text-anchor="middle" textLength="25.0" lengthAdjust="spacingAndGlyphs">Vehicle</text>
<line x1="185" y1="307.5" x2="235" y2="307.5" stroke="#2a2a2a" stroke-width="1.3"/>
<text x="210.00" y="316.00" font-size="8.8" text-anchor="middle" textLength="45.2" lengthAdjust="spacingAndGlyphs">MSU crystals</text>
<text x="271.7" y="181.6" font-size="11.3" font-weight="bold" style="stroke-width:0.5px;fill:#000;stroke:#000">J</text>
<text transform="translate(279.4,276.6) rotate(-90)" font-size="8.4" fill="#222" textLength="89.6" lengthAdjust="spacingAndGlyphs">CXCL1 in air pouch (pg/mL)</text>
<line x1="302.00" y1="274.0" x2="305.2" y2="274.0" stroke="#111" stroke-width="1"/>
<text x="299.20" y="276.95" font-size="8.7" text-anchor="end" textLength="4.45" lengthAdjust="spacingAndGlyphs">0</text>
<line x1="302.00" y1="262.2" x2="305.2" y2="262.2" stroke="#111" stroke-width="1"/>
<text x="299.20" y="265.15" font-size="8.7" text-anchor="end" textLength="13.35" lengthAdjust="spacingAndGlyphs">100</text>
<line x1="302.00" y1="250.4" x2="305.2" y2="250.4" stroke="#111" stroke-width="1"/>
<text x="299.20" y="253.35" font-size="8.7" text-anchor="end" textLength="13.35" lengthAdjust="spacingAndGlyphs">200</text>
<line x1="302.00" y1="238.6" x2="305.2" y2="238.6" stroke="#111" stroke-width="1"/>
<text x="299.20" y="241.55" font-size="8.7" text-anchor="end" textLength="13.35" lengthAdjust="spacingAndGlyphs">300</text>
<line x1="302.00" y1="226.8" x2="305.2" y2="226.8" stroke="#111" stroke-width="1"/>
<text x="299.20" y="229.75" font-size="8.7" text-anchor="end" textLength="13.35" lengthAdjust="spacingAndGlyphs">400</text>
<line x1="302.00" y1="215.0" x2="305.2" y2="215.0" stroke="#111" stroke-width="1"/>
<text x="299.20" y="217.95" font-size="8.7" text-anchor="end" textLength="13.35" lengthAdjust="spacingAndGlyphs">500</text>
<line x1="302.00" y1="203.2" x2="305.2" y2="203.2" stroke="#111" stroke-width="1"/>
<text x="299.20" y="206.15" font-size="8.7" text-anchor="end" textLength="13.35" lengthAdjust="spacingAndGlyphs">600</text>
<line x1="302.00" y1="191.4" x2="305.2" y2="191.4" stroke="#111" stroke-width="1"/>
<text x="299.20" y="194.35" font-size="8.7" text-anchor="end" textLength="13.35" lengthAdjust="spacingAndGlyphs">700</text>
<rect x="309.00" y="259.9" width="13" height="14.10" fill="#E07F90"/>
<rect x="329.70" y="263.6" width="13" height="10.40" fill="#9FDBA5"/>
<rect x="350.30" y="264.2" width="13" height="9.80" fill="#8CA9C8"/>
<rect x="371.20" y="214.0" width="13" height="60.00" fill="#E07F90"/>
<rect x="392.00" y="230.0" width="13" height="44.00" fill="#9FDBA5"/>
<rect x="412.30" y="242.2" width="13" height="31.80" fill="#8CA9C8"/>
<line x1="305.2" y1="187.0" x2="305.2" y2="274.65" stroke="#000" stroke-width="1.3"/>
<line x1="304.55" y1="274.0" x2="429.2" y2="274.0" stroke="#000" stroke-width="1.35"/>
<circle cx="311.1" cy="253.5" r="2.05" fill="#D2102F"/>
<circle cx="316" cy="258.8" r="2.05" fill="#D2102F"/>
<circle cx="319.8" cy="259.5" r="2.05" fill="#D2102F"/>
<circle cx="315.5" cy="266.2" r="2.05" fill="#D2102F"/>
<line x1="315.5" y1="254.1" x2="315.5" y2="264.6" stroke="#111" stroke-width="1"/>
<line x1="312.2" y1="254.1" x2="318.8" y2="254.1" stroke="#111" stroke-width="1"/>
<line x1="312.2" y1="264.6" x2="318.8" y2="264.6" stroke="#111" stroke-width="1"/>
<polygon points="331.9,257.86 334.25,262.26 329.55,262.26" fill="#2EB54A"/>
<polygon points="333.7,260.26 336.05,264.66 331.35,264.66" fill="#2EB54A"/>
<polygon points="340,264.96 342.35,269.36 337.65,269.36" fill="#2EB54A"/>
<polygon points="337,261.36 339.35,265.76 334.65,265.76" fill="#2EB54A"/>
<line x1="336.2" y1="259.9" x2="336.2" y2="265.6" stroke="#111" stroke-width="1"/>
<line x1="332.9" y1="259.9" x2="339.5" y2="259.9" stroke="#111" stroke-width="1"/>
<line x1="332.9" y1="265.6" x2="339.5" y2="265.6" stroke="#111" stroke-width="1"/>
<rect x="351.00" y="255.70" width="3.6" height="3.6" fill="#1A4F8B"/>
<rect x="351.70" y="258.40" width="3.6" height="3.6" fill="#1A4F8B"/>
<rect x="358.40" y="259.50" width="3.6" height="3.6" fill="#1A4F8B"/>
<rect x="351.40" y="262.20" width="3.6" height="3.6" fill="#1A4F8B"/>
<rect x="358.40" y="262.20" width="3.6" height="3.6" fill="#1A4F8B"/>
<rect x="358.10" y="268.50" width="3.6" height="3.6" fill="#1A4F8B"/>
<line x1="356.8" y1="258.4" x2="356.8" y2="268.0" stroke="#111" stroke-width="1"/>
<line x1="353.5" y1="258.4" x2="360.1" y2="258.4" stroke="#111" stroke-width="1"/>
<line x1="353.5" y1="268.0" x2="360.1" y2="268.0" stroke="#111" stroke-width="1"/>
<circle cx="374" cy="206.5" r="2.05" fill="#D2102F"/>
<circle cx="381.1" cy="208" r="2.05" fill="#D2102F"/>
<circle cx="381.1" cy="215.1" r="2.05" fill="#D2102F"/>
<circle cx="377.2" cy="223.7" r="2.05" fill="#D2102F"/>
<circle cx="374.6" cy="214.9" r="2.05" fill="#D2102F"/>
<line x1="377.7" y1="206.9" x2="377.7" y2="220.5" stroke="#111" stroke-width="1"/>
<line x1="374.4" y1="206.9" x2="381.0" y2="206.9" stroke="#111" stroke-width="1"/>
<line x1="374.4" y1="220.5" x2="381.0" y2="220.5" stroke="#111" stroke-width="1"/>
<polygon points="398.3,217.16 400.65,221.56 395.95,221.56" fill="#2EB54A"/>
<polygon points="394,220.46 396.35,224.86 391.65,224.86" fill="#2EB54A"/>
<polygon points="402,225.16 404.35,229.56 399.65,229.56" fill="#2EB54A"/>
<polygon points="393.8,235.06 396.15,239.46 391.45,239.46" fill="#2EB54A"/>
<polygon points="401.4,239.86 403.75,244.26 399.05,244.26" fill="#2EB54A"/>
<line x1="398.5" y1="219.8" x2="398.5" y2="239.2" stroke="#111" stroke-width="1"/>
<line x1="395.2" y1="219.8" x2="401.8" y2="219.8" stroke="#111" stroke-width="1"/>
<line x1="395.2" y1="239.2" x2="401.8" y2="239.2" stroke="#111" stroke-width="1"/>
<rect x="420.40" y="226.50" width="3.6" height="3.6" fill="#1A4F8B"/>
<rect x="413.00" y="231.50" width="3.6" height="3.6" fill="#1A4F8B"/>
<rect x="413.00" y="235.20" width="3.6" height="3.6" fill="#1A4F8B"/>
<rect x="420.40" y="240.00" width="3.6" height="3.6" fill="#1A4F8B"/>
<rect x="416.70" y="247.70" width="3.6" height="3.6" fill="#1A4F8B"/>
<rect x="416.70" y="257.00" width="3.6" height="3.6" fill="#1A4F8B"/>
<line x1="418.8" y1="230.2" x2="418.8" y2="252.9" stroke="#111" stroke-width="1"/>
<line x1="415.5" y1="230.2" x2="422.1" y2="230.2" stroke="#111" stroke-width="1"/>
<line x1="415.5" y1="252.9" x2="422.1" y2="252.9" stroke="#111" stroke-width="1"/>
<line x1="317.2" y1="200.9" x2="375.8" y2="200.9" stroke="#1a1a1a" stroke-width="1.3"/>
<polygon points="342.65,195.00 343.15,196.21 344.46,196.31 343.46,197.16 343.77,198.44 342.65,197.75 341.53,198.44 341.84,197.16 340.84,196.31 342.15,196.21" fill="#111"/>
<polygon points="346.50,195.00 347.00,196.21 348.31,196.31 347.31,197.16 347.62,198.44 346.50,197.75 345.38,198.44 345.69,197.16 344.69,196.31 346.00,196.21" fill="#111"/>
<polygon points="350.35,195.00 350.85,196.21 352.16,196.31 351.16,197.16 351.47,198.44 350.35,197.75 349.23,198.44 349.54,197.16 348.54,196.31 349.85,196.21" fill="#111"/>
<line x1="378.3" y1="200.9" x2="396.6" y2="200.9" stroke="#1a1a1a" stroke-width="1.3"/>
<text x="387.4" y="198.90" font-size="8" text-anchor="middle">ns</text>
<line x1="378.7" y1="189.0" x2="418.6" y2="189.0" stroke="#1a1a1a" stroke-width="1.3"/>
<polygon points="396.38,182.80 396.87,184.01 398.18,184.11 397.18,184.96 397.49,186.24 396.38,185.55 395.26,186.24 395.57,184.96 394.57,184.11 395.88,184.01" fill="#111"/>
<polygon points="400.23,182.80 400.72,184.01 402.03,184.11 401.03,184.96 401.34,186.24 400.23,185.55 399.11,186.24 399.42,184.96 398.42,184.11 399.73,184.01" fill="#111"/>
<line x1="398.3" y1="212.5" x2="418.2" y2="212.5" stroke="#1a1a1a" stroke-width="1"/>
<text x="408" y="210.30" font-size="8" text-anchor="middle">ns</text>
<text transform="translate(319.30,280.50) rotate(-45)" font-size="8.4" text-anchor="end" textLength="28.3" lengthAdjust="spacingAndGlyphs">Healthy</text>
<text transform="translate(339.72,280.78) rotate(-45)" font-size="8.4" text-anchor="end" textLength="11.9" lengthAdjust="spacingAndGlyphs">HU</text>
<text transform="translate(360.60,280.50) rotate(-45)" font-size="8.4" text-anchor="end" textLength="32.4" lengthAdjust="spacingAndGlyphs">HU+CKD</text>
<text transform="translate(381.50,280.50) rotate(-45)" font-size="8.4" text-anchor="end" textLength="28.3" lengthAdjust="spacingAndGlyphs">Healthy</text>
<text transform="translate(402.02,280.78) rotate(-45)" font-size="8.4" text-anchor="end" textLength="11.9" lengthAdjust="spacingAndGlyphs">HU</text>
<text transform="translate(422.60,280.50) rotate(-45)" font-size="8.4" text-anchor="end" textLength="32.4" lengthAdjust="spacingAndGlyphs">HU+CKD</text>
<line x1="298" y1="306.8" x2="345.5" y2="306.8" stroke="#2a2a2a" stroke-width="1.3"/>
<text x="321.75" y="315.20" font-size="8.8" text-anchor="middle" textLength="25.0" lengthAdjust="spacingAndGlyphs">Vehicle</text>
<line x1="360.5" y1="306.8" x2="407.5" y2="306.8" stroke="#2a2a2a" stroke-width="1.3"/>
<text x="384.00" y="315.20" font-size="8.8" text-anchor="middle" textLength="45.2" lengthAdjust="spacingAndGlyphs">MSU crystals</text>
<rect x="0.55" y="0.55" width="518.9" height="323.9" fill="none" stroke="#000" stroke-width="1.15"/>
</svg>
</body></html>
